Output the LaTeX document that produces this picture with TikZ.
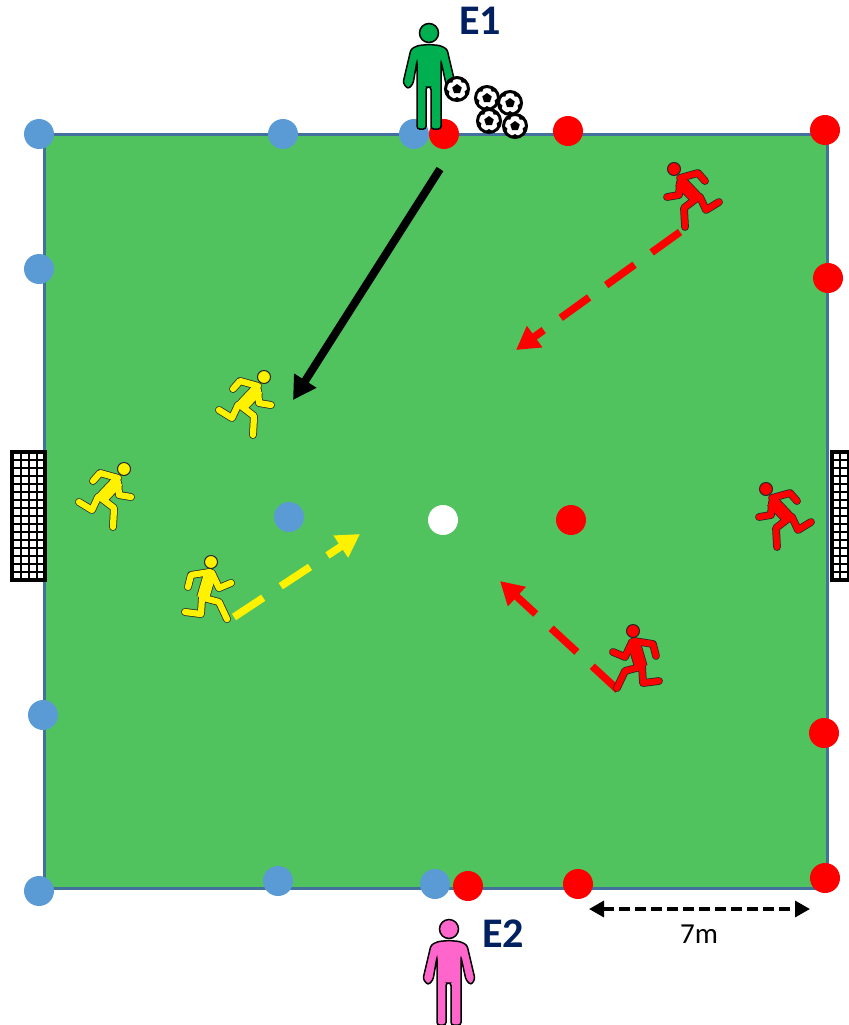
\documentclass[tikz,border=0pt]{standalone}
\usepackage{fontspec}
\setmainfont{Carlito}
\usetikzlibrary{arrows.meta, positioning}
\definecolor{pitchgreen}{HTML}{50C35F}
\definecolor{pitchline}{HTML}{41719C}
\definecolor{coneblue}{HTML}{5B9BD5}
\definecolor{coachgreen}{HTML}{00B050}
\definecolor{coachpink}{HTML}{FF66CC}
\definecolor{labelnavy}{HTML}{002060}
\tikzset{
    pitch/.style={x=0.02cm, y=-0.02cm, >=Triangle},
    cone/.style={circle, minimum size=0.6cm, inner sep=0pt, outer sep=0pt, fill=#1},
    coachlabel/.style={text=labelnavy, font=\fontsize{24}{26}\selectfont\bfseries, inner sep=0pt},
    netline/.style={draw=black, line width=0.04cm},
    limbedge/.style={draw=black!85, line width=0.155cm, line cap=round, line join=round},
    limbfill/.style={draw=#1, line width=0.125cm, line cap=round, line join=round},
    torsoedge/.style={draw=black!85, line width=0.27cm},
    torsofill/.style={draw=#1, line width=0.24cm},
    ballrun/.style={line width=0.15cm, dash pattern=on 0.7cm off 0.42cm, -{Triangle[length=0.46cm, width=0.5cm]}},
    % one runner pose per pic, the head sits at the pic origin
    pics/runnerlean/.style={code={
        \def\limbpath{(-31,12) -- (-24,4) -- (-6,9) (-6,13) -- (-5,26) -- (7,28)
            (-26,28) -- (-32,41) -- (-45,33) (-23,29) -- (-10,39) -- (-11,58)}
        \draw[limbedge] \limbpath;
        \draw[torsoedge] (-6,12) -- (-24,31);
        \draw[limbfill=#1] \limbpath;
        \draw[torsofill=#1] (-6,12) -- (-24,31);
        \draw[black!85, fill=#1, line width=0.02cm] (0,0) circle[radius=6.5];
    }},
    pics/runnerupright/.style={code={
        \def\limbpath{(-23,25) -- (-20,13) -- (-1,10) (1,11) -- (8,26) -- (20,21)
            (-9,35) -- (-10,52) -- (-26,50) (-7,36) -- (8,40) -- (16,57)}
        \draw[limbedge] \limbpath;
        \draw[torsoedge] (-1,12) -- (-8,36);
        \draw[limbfill=#1] \limbpath;
        \draw[torsofill=#1] (-1,12) -- (-8,36);
        \draw[black!85, fill=#1, line width=0.02cm] (0,0) circle[radius=6.5];
    }},
    pics/coach/.style={code={
        \draw[fill=#1, line width=0.03cm, rounded corners=1.5pt] (0,11.5) -- (-11,12.5) -- (-18,16) -- (-26,50) -- (-21,56)
            -- (-16,51) -- (-12,28) -- (-12,96) -- (-3,96) -- (-3,54) -- (2,54) -- (2,96) -- (12,96)
            -- (12,28) -- (17,51) -- (22,56) -- (26,50) -- (18,16) -- (11,12.5) -- cycle;
        \draw[fill=#1, line width=0.03cm] (0,0) circle[radius=9.5];
    }},
    pics/ball/.style={code={
        \draw[fill=white, line width=0.06cm] (0,0) circle[radius=11.5];
        \fill (270:5) -- (342:5) -- (54:5) -- (126:5) -- (198:5) -- cycle;
        \foreach \ang in {270,342,54,126,198}{
            \fill (\ang+14:11.5) -- (\ang+36:8) -- (\ang+58:11.5) -- cycle;
        }
    }},
}

\begin{document}
\begin{tikzpicture}[pitch]
    \useasboundingbox (0,0) rectangle (849,1025);

    \node[draw=pitchline, fill=pitchgreen, line width=0.06cm, minimum width=15.68cm, minimum height=15.1cm,
        inner sep=0pt, outer sep=0pt] (field) at (436,511.5) {};

    % goals
    \fill[white] (11,452) rectangle (45,580);
    \foreach \yy in {452,460,...,580}{\draw[netline] (11,\yy) -- (45,\yy);}
    \foreach \xx in {13,21,29,37,45}{\draw[netline] (\xx,452) -- (\xx,580);}
    \draw[black, line width=0.07cm] (11.5,452) rectangle (45,580);
    \fill[white] (832,452) rectangle (849,580);
    \foreach \yy in {452,460,...,580}{\draw[netline] (832,\yy) -- (849,\yy);}
    \foreach \xx in {840,848}{\draw[netline] (\xx,452) -- (\xx,580);}
    \draw[black, line width=0.07cm] (849,452) -- (832,452) -- (832,580) -- (849,580);

    \foreach \nm/\xx/\yy in {ba/39/134, bb/283/134, bc/414/134, bd/39/269, be/289/517, bf/43/715, bg/39/891, bh/278/881, bi/435/884}{
        \node[cone=coneblue] (\nm) at (\xx,\yy) {};
    }
    \foreach \nm/\xx/\yy in {ra/444/134, rb/568/131, rc/825/130, rd/828/278, re/571/520, rf/824/733, rg/468/886, rh/578/884, ri/825/878}{
        \node[cone=red] (\nm) at (\xx,\yy) {};
    }
    \node[cone=white] (centre) at (443,520) {};

    \coordinate (passstart) at (440,169);
    \coordinate (passend)   at (293,400);
    \coordinate (yellowstart) at (234,617);
    \coordinate (yellowend)   at (360,534);
    \coordinate (redastart) at (680,232);
    \coordinate (redaend)   at (516,350);
    \coordinate (redbstart) at (618,690);
    \coordinate (redbend)   at (500,581);
    \coordinate (dimleft)  at (589,909);
    \coordinate (dimright) at (810,909);

    \draw[line width=0.16cm, -{Triangle[length=0.46cm, width=0.5cm]}] (passstart) -- (passend);
    \draw[ballrun, draw=yellow] (yellowstart) -- (yellowend);
    \draw[ballrun, draw=red] (redastart) -- (redaend);
    \draw[ballrun, draw=red] (redbstart) -- (redbend);
    \draw[line width=0.066cm, dash pattern=on 0.22cm off 0.1cm, {Triangle[length=0.3cm, width=0.32cm]}-{Triangle[length=0.3cm, width=0.32cm]}] (dimleft) -- (dimright);
    \node[font=\fontsize{16.5}{18}\selectfont, inner sep=0pt] (dimlabel) at (699,934) {7m};

    \pic (runnerya) at (264,377) {runnerlean=yellow};
    \pic (runneryb) at (124,469) {runnerlean=yellow};
    \pic (runneryc) at (211,562) {runnerupright=yellow};
    \pic[xscale=-1] (runnerra) at (674,169) {runnerlean=red};
    \pic[xscale=-1] (runnerrb) at (766,489) {runnerlean=red};
    \pic[xscale=-1] (runnerrc) at (633,631) {runnerupright=red};

    \pic (coachone) at (429,33) {coach=coachgreen};
    \pic (coachtwo) at (449,929) {coach=coachpink};
    \node[coachlabel] (labelone) at (480,21) {E1};
    \node[coachlabel] (labeltwo) at (503,934) {E2};

    \pic (ballhand) at (457,89) {ball};
    \pic (ballone) at (487,98) {ball};
    \pic (balltwo) at (510,103) {ball};
    \pic (ballthree) at (489,121) {ball};
    \pic (ballfour) at (515,126) {ball};
\end{tikzpicture}
\end{document}
